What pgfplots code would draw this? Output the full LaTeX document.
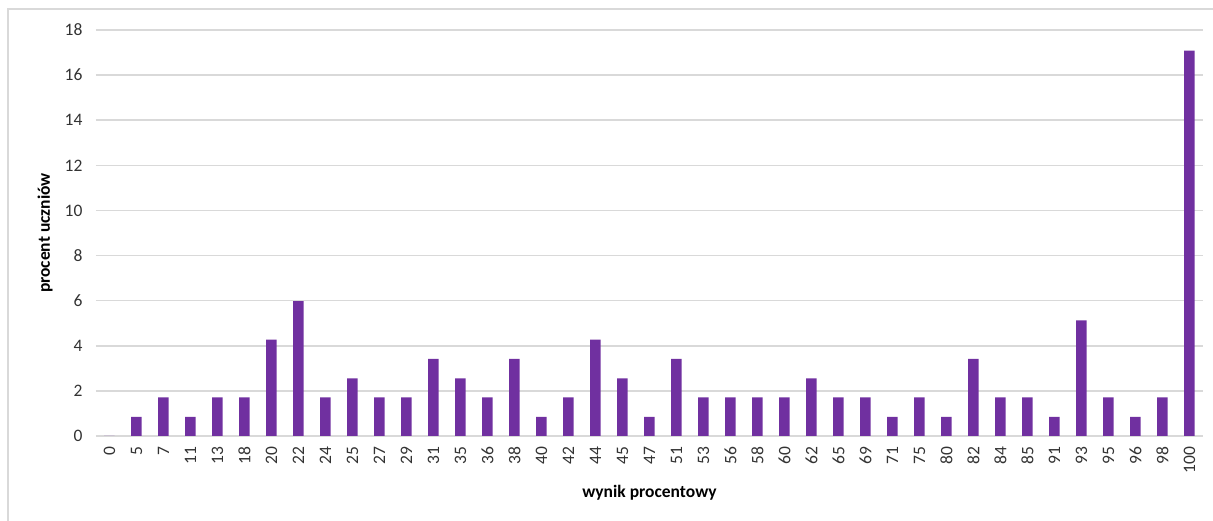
\documentclass[border=0pt]{standalone}
\usepackage{pgfplots}
\pgfplotsset{compat=1.18}
\usepackage{fontspec}
\setmainfont{Carlito}
\definecolor{barpurple}{HTML}{7030A0}
\definecolor{gridgray}{HTML}{D9D9D9}
\definecolor{txt}{HTML}{333333}

\begin{document}
\begin{tikzpicture}
\path[use as bounding box] (-96pt,-85pt) rectangle (1117pt,436pt);
\draw[gridgray, line width=1.8pt] (-88pt,-85pt) -- (-88pt,427pt) -- (1117pt,427pt);
\begin{axis}[
    at={(0,0)}, anchor=south west,
    scale only axis,
    width=1107pt, height=406pt,
    xmin=-0.5, xmax=40.5,
    ymin=0, ymax=18,
    ytick={0,2,...,18},
    xtick=data,
    xticklabels={0,5,7,11,13,18,20,22,24,25,27,29,31,35,36,38,40,42,44,45,47,51,53,56,58,60,62,65,69,71,75,80,82,84,85,91,93,95,96,98,100},
    xticklabel style={rotate=90, anchor=east, font=\fontsize{17.5}{17.5}\selectfont, text=txt},
    yticklabel style={font=\fontsize{17.5}{17.5}\selectfont, text=txt},
    /pgf/number format/assume math mode=true,
    axis line style={draw=none},
    major tick length=0pt,
    ymajorgrids,
    grid style={gridgray, line width=1.6pt},
    xtick pos=bottom,
    ytick pos=left,
    xticklabel shift=7pt,
    yticklabel shift=10pt,
    xlabel={\bfseries wynik procentowy},
    ylabel={\bfseries procent uczniów},
    xlabel style={font=\fontsize{17.5}{17.5}\selectfont, text=black, at={(axis description cs:0.5,0)}, anchor=center, yshift=-57pt},
    ylabel style={font=\fontsize{17.5}{17.5}\selectfont, text=black, at={(axis description cs:0,0.5)}, anchor=center, yshift=51pt},
    ybar, bar width=10.5pt,
    clip=false,
]
\addplot[fill=barpurple, draw=none] coordinates {
(0,0) (1,0.85) (2,1.71) (3,0.85) (4,1.71) (5,1.71) (6,4.27) (7,5.98) (8,1.71) (9,2.56)
(10,1.71) (11,1.71) (12,3.42) (13,2.56) (14,1.71) (15,3.42) (16,0.85) (17,1.71) (18,4.27) (19,2.56)
(20,0.85) (21,3.42) (22,1.71) (23,1.71) (24,1.71) (25,1.71) (26,2.56) (27,1.71) (28,1.71) (29,0.85)
(30,1.71) (31,0.85) (32,3.42) (33,1.71) (34,1.71) (35,0.85) (36,5.13) (37,1.71) (38,0.85) (39,1.71)
(40,17.09)
};
\end{axis}
\end{tikzpicture}
\end{document}
